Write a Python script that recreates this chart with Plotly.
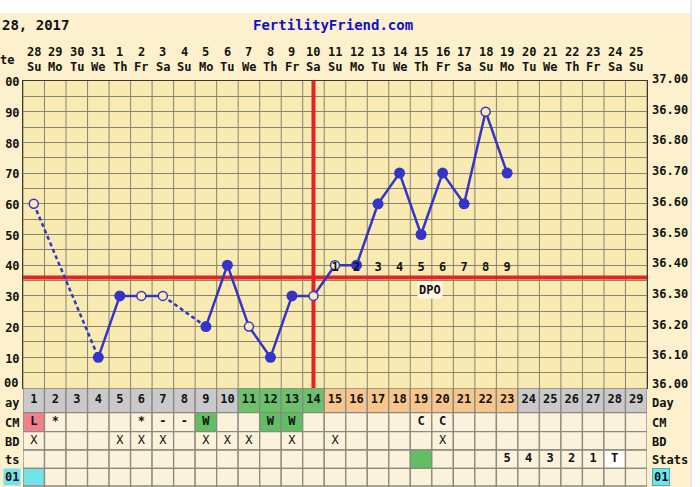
import plotly.graph_objects as go

# ---------------- data ----------------
days = list(range(1, 30))
dates = ["28", "29", "30", "31", "1", "2", "3", "4", "5", "6", "7", "8", "9", "10",
         "11", "12", "13", "14", "15", "16", "17", "18", "19", "20", "21", "22",
         "23", "24", "25"]
weekdays = ["Su", "Mo", "Tu", "We", "Th", "Fr", "Sa", "Su", "Mo", "Tu", "We", "Th",
            "Fr", "Sa", "Su", "Mo", "Tu", "We", "Th", "Fr", "Sa", "Su", "Mo", "Tu",
            "We", "Th", "Fr", "Sa", "Su"]
temps = [36.60, None, None, 36.10, 36.30, 36.30, 36.30, None, 36.20, 36.40,
         36.20, 36.10, 36.30, 36.30, 36.40, 36.40, 36.60, 36.70, 36.50, 36.70,
         36.60, 36.90, 36.70, None, None, None, None, None, None]
open_days = [1, 6, 7, 11, 14, 15, 22]
coverline = 36.36
ovulation_day = 14
dpo_days = [15, 16, 17, 18, 19, 20, 21, 22, 23]
dpo_labels = ["1", "2", "3", "4", "5", "6", "7", "8", "9"]
dpo_label_temp = 36.39
dpo_title_pos = (19.43, 36.32)

temp_ticks = [36.00, 36.05, 36.10, 36.15, 36.20, 36.25, 36.30, 36.35, 36.40, 36.45,
              36.50, 36.55, 36.60, 36.65, 36.70, 36.75, 36.80, 36.85, 36.90, 36.95, 37.00]
left_tick_text = ["", "", "10", "", "20", "", "30", "", "40", "", "50", "", "60", "",
                  "70", "", "80", "", "90", "", "00"]
bottom_left_label = "00"
right_label_vals = [36.00, 36.10, 36.20, 36.30, 36.40, 36.50, 36.60, 36.70, 36.80, 36.90, 37.00]
right_label_text = ["36.00", "36.10", "36.20", "36.30", "36.40", "36.50", "36.60",
                    "36.70", "36.80", "36.90", "37.00"]

# phase of each cycle day: g = grey, f = fertile (green), l = luteal (orange)
day_phase = ["g"] * 10 + ["f"] * 4 + ["l"] * 9 + ["g"] * 6
cm_marks = ["L", "*", "", "", "", "*", "-", "-", "W", "", "", "W", "W", "", "", "", "",
            "", "C", "C", "", "", "", "", "", "", "", "", ""]
cm_flag = {1: "pink", 9: "green", 12: "green", 13: "green"}
bd_days = [1, 5, 6, 7, 9, 10, 11, 13, 15, 20]
stats_marks = ["", "", "", "", "", "", "", "", "", "", "", "", "", "", "", "", "", "",
               "", "", "", "", "5", "4", "3", "2", "1", "T", ""]
stats_flag = {19: "green", 28: "white"}
row01_flag = {1: "cyan"}

# ---------------- styles ----------------
PAPER = "#FCF1CC"
PLOTBG = "#F9EAB2"
CELL = "#FCF2DC"
GRID = "#86846E"
BLUE = "#3434C8"
RED = "#E42424"
COL = {"g": "#C9C9CB", "f": "#6CC26C", "l": "#F8C68C", "pink": "#F0808E",
       "green": "#62BE62", "white": "#FFFFFF", "cyan": "#74E2EA"}
FONT = "DejaVu Sans Mono"

# table rows in y2 units (pixels from the bottom of the figure)
rows = {"day": (74.3, 99.0), "cm": (55.3, 74.3), "bd": (37.0, 55.3),
        "stats": (18.7, 37.0), "r01": (1.0, 18.7)}

fig = go.Figure()

# coverline & ovulation line
fig.add_trace(go.Scatter(x=[0.5, 29.5], y=[coverline, coverline], mode="lines",
                         line=dict(color=RED, width=4), hoverinfo="skip", showlegend=False))
fig.add_trace(go.Scatter(x=[ovulation_day, ovulation_day], y=[36.0, 37.0], mode="lines",
                         line=dict(color=RED, width=4), hoverinfo="skip", showlegend=False))

# dashed bridges over missing days
rec = [(d, t) for d, t in zip(days, temps) if t is not None]
dx, dy = [], []
for (d0, t0), (d1, t1) in zip(rec[:-1], rec[1:]):
    if d1 - d0 > 1:
        dx += [d0, d1, None]
        dy += [t0, t1, None]
fig.add_trace(go.Scatter(x=dx, y=dy, mode="lines",
                         line=dict(color=BLUE, width=2.5, dash="4px,3px"),
                         hoverinfo="skip", showlegend=False))
# solid line
fig.add_trace(go.Scatter(x=days, y=temps, mode="lines", connectgaps=False,
                         line=dict(color=BLUE, width=2.5), hoverinfo="skip", showlegend=False))
# markers
fx = [d for d, t in rec if d not in open_days]
fy = [t for d, t in rec if d not in open_days]
ox = [d for d, t in rec if d in open_days]
oy = [t for d, t in rec if d in open_days]
fig.add_trace(go.Scatter(x=fx, y=fy, mode="markers",
                         marker=dict(color=BLUE, size=11, line=dict(width=0)),
                         hoverinfo="skip", showlegend=False))
fig.add_trace(go.Scatter(x=ox, y=oy, mode="markers",
                         marker=dict(color=PLOTBG, size=9, line=dict(color=BLUE, width=1.5)),
                         hoverinfo="skip", showlegend=False))
# DPO numbers
fig.add_trace(go.Scatter(x=dpo_days, y=[dpo_label_temp] * len(dpo_days), mode="text",
                         text=dpo_labels, textfont=dict(family=FONT, size=12, color="#111", weight="bold"),
                         hoverinfo="skip", showlegend=False))

shapes = []
# vertical grid lines in temperature area
for b in [d - 0.5 for d in days] + [29.5]:
    shapes.append(dict(type="line", xref="x", yref="y", x0=b, x1=b, y0=36.0, y1=37.0,
                       line=dict(color=GRID, width=1), layer="below"))

# table cells
def cell_color(row, d):
    if row == "day":
        return COL[day_phase[d - 1]]
    if row == "cm" and d in cm_flag:
        return COL[cm_flag[d]]
    if row == "stats" and d in stats_flag:
        return COL[stats_flag[d]]
    if row == "r01" and d in row01_flag:
        return COL[row01_flag[d]]
    return CELL

for row, (y0, y1) in rows.items():
    for d in days:
        shapes.append(dict(type="rect", xref="x", yref="y2", x0=d - 0.5, x1=d + 0.5,
                           y0=y0, y1=y1, fillcolor=cell_color(row, d),
                           line=dict(color="#8A8A80", width=1.3), layer="below"))

# white page edges
shapes.append(dict(type="rect", xref="paper", yref="paper", x0=-0.1, x1=1.2,
                   y0=(487 - 13) / 406, y1=1.25, fillcolor="#FFFFFF", line=dict(width=0), layer="below"))
shapes.append(dict(type="rect", xref="paper", yref="paper", x0=(690 - 23) / 624, x1=1.2,
                   y0=-0.1, y1=1.25, fillcolor="#FFFFFF", line=dict(width=0), layer="below"))
shapes.append(dict(type="line", xref="paper", yref="paper", x0=(691 - 23) / 624, x1=(691 - 23) / 624,
                   y0=-0.1, y1=1.25, line=dict(color="#CFCFCF", width=1), layer="below"))

# table text
def ymid(row):
    a, b = rows[row]
    return (a + b) / 2

fig.add_trace(go.Scatter(x=days, y=[ymid("day")] * 29, mode="text", text=[str(d) for d in days],
                         textfont=dict(family=FONT, size=12, color="#111", weight="bold"),
                         hoverinfo="skip", showlegend=False, yaxis="y2"))
fig.add_trace(go.Scatter(x=days, y=[ymid("cm")] * 29, mode="text", text=cm_marks,
                         textfont=dict(family=FONT, size=12, color="#111", weight="bold"),
                         hoverinfo="skip", showlegend=False, yaxis="y2"))
fig.add_trace(go.Scatter(x=bd_days, y=[ymid("bd")] * len(bd_days), mode="text", text=["X"] * len(bd_days),
                         textfont=dict(family=FONT, size=12, color="#111"),
                         hoverinfo="skip", showlegend=False, yaxis="y2"))
fig.add_trace(go.Scatter(x=days, y=[ymid("stats")] * 29, mode="text", text=stats_marks,
                         textfont=dict(family=FONT, size=12, color="#111", weight="bold"),
                         hoverinfo="skip", showlegend=False, yaxis="y2"))

ann = []
bold = dict(family=FONT, size=12, color="#111", weight="bold")
# header
ann.append(dict(text="28, 2017", xref="paper", yref="paper", x=-23 / 624, y=(487 - 25) / 406,
                xanchor="left", yanchor="middle", showarrow=False,
                font=dict(family=FONT, size=14, color="#111", weight="bold")))
ann.append(dict(text="FertilityFriend.com", xref="paper", yref="paper", x=(333 - 23) / 624,
                y=(487 - 25) / 406, xanchor="center", yanchor="middle", showarrow=False,
                font=dict(family=FONT, size=14, color="#1010C8", weight="bold")))
ann.append(dict(text="te", xref="paper", yref="paper", x=(16 - 23) / 624, y=(487 - 60) / 406,
                xanchor="right", yanchor="middle", showarrow=False, font=bold))
for d, ds, wd in zip(days, dates, weekdays):
    ann.append(dict(text=ds, xref="x", yref="paper", x=d, y=(487 - 52) / 406, xanchor="center",
                    yanchor="middle", showarrow=False, font=bold))
    ann.append(dict(text=wd, xref="x", yref="paper", x=d, y=(487 - 67) / 406, xanchor="center",
                    yanchor="middle", showarrow=False, font=bold))
# bottom-left temperature label (sits just above the table)
ann.append(dict(text=bottom_left_label, xref="paper", yref="y", x=(19 - 23) / 624, y=36.0, yshift=5,
                xanchor="right", yanchor="middle", showarrow=False, font=bold, borderpad=0))
# right temperature labels
for v, t in zip(right_label_vals, right_label_text):
    ann.append(dict(text=t, xref="paper", yref="y", x=(651 - 23) / 624, y=v,
                    yshift=4 if v == 36.0 else 2,
                    xanchor="left", yanchor="middle", showarrow=False, font=bold, borderpad=0))
# DPO title
ann.append(dict(text="DPO", xref="x", yref="y", x=dpo_title_pos[0], y=dpo_title_pos[1],
                xanchor="center", yanchor="middle", showarrow=False, font=bold,
                bgcolor="#FDF7E2", borderpad=1))
# table row labels
right_rows = [("Day", "day"), ("CM", "cm"), ("BD", "bd"), ("Stats", "stats")]
left_rows = [("ay", "day"), ("CM", "cm"), ("BD", "bd"), ("ts", "stats")]
for t, r in right_rows:
    ann.append(dict(text=t, xref="paper", yref="y2", x=(651 - 23) / 624, y=ymid(r),
                    yshift=-3 if r == "day" else -1, borderpad=0,
                    xanchor="left", yanchor="middle", showarrow=False, font=bold))
for t, r in left_rows:
    ann.append(dict(text=t, xref="paper", yref="y2", x=(20 - 23) / 624, y=ymid(r),
                    yshift=-3 if r == "day" else -1, borderpad=0,
                    xanchor="right", yanchor="middle", showarrow=False, font=bold))
ann.append(dict(text="01", xref="paper", yref="y2", x=(652 - 23) / 624, y=ymid("r01"), xanchor="left",
                yanchor="middle", showarrow=False, font=bold, bgcolor=COL["cyan"],
                bordercolor="#3AAFB8", borderwidth=1, borderpad=1))
ann.append(dict(text="01", xref="paper", yref="y2", x=(21 - 23) / 624, y=ymid("r01"), xanchor="right",
                yanchor="middle", showarrow=False, font=bold, bgcolor=COL["cyan"], borderpad=1))

fig.update_layout(
    width=700, height=487, autosize=False,
    margin=dict(l=23, r=53, t=81, b=0, pad=0, autoexpand=False),
    paper_bgcolor=PAPER, plot_bgcolor=PLOTBG,
    showlegend=False,
    shapes=shapes, annotations=ann,
    font=dict(family=FONT, size=12, color="#111"),
    xaxis=dict(range=[0.5, 29.5], domain=[0, 1], showgrid=False, showticklabels=False,
               ticks="", zeroline=False, showline=True, mirror=True, linecolor="#3A3A30",
               linewidth=1, fixedrange=True, automargin=False),
    yaxis=dict(domain=[99 / 406, 1], range=[36.0, 37.0], tickvals=temp_ticks,
               ticktext=left_tick_text, showgrid=True, gridcolor=GRID, gridwidth=1,
               zeroline=False, showline=True, mirror=True, linecolor="#3A3A30", linewidth=1,
               ticks="", ticklabelshift=1, automargin=False,
               tickfont=dict(family=FONT, size=12, color="#111", weight="bold"),
               fixedrange=True),
    yaxis2=dict(domain=[0, 99 / 406], range=[0, 99], visible=False, fixedrange=True,
                automargin=False),
)

fig.write_html("out.html", config={"displayModeBar": False})
